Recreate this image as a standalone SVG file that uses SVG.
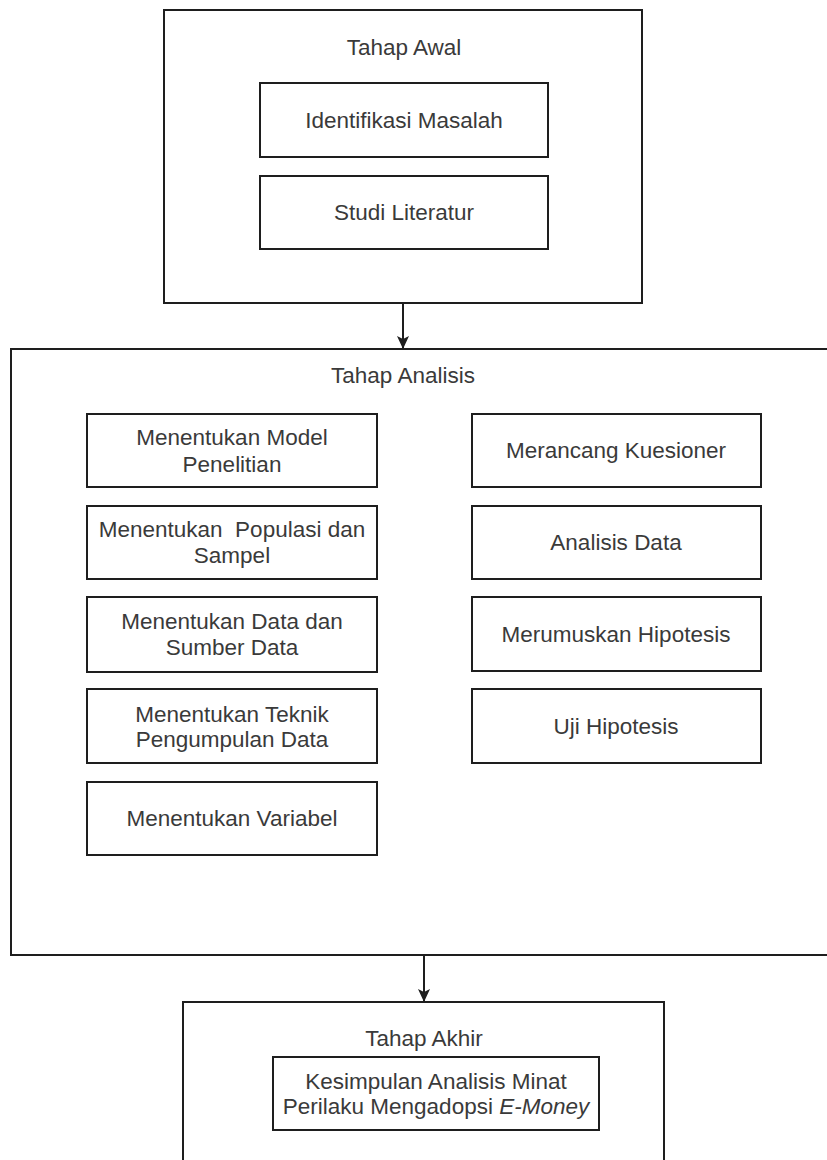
<svg xmlns="http://www.w3.org/2000/svg" width="827" height="1160" viewBox="0 0 827 1160">
  <style>
    .frame { fill: #ffffff; stroke: #1e1e1e; stroke-width: 2; }
    .box { fill: #ffffff; stroke: #1e1e1e; stroke-width: 2; }
    .label { font-family: "Liberation Sans", Arial, sans-serif; font-size: 22.5px; fill: #3a3a3a; text-anchor: middle; }
    .wire { fill: none; stroke: #1e1e1e; stroke-width: 2; }
  </style>
  <defs>
    <marker id="arrowhead" markerUnits="userSpaceOnUse" markerWidth="14" markerHeight="14" viewBox="0 0 14 14" refX="13" refY="7" orient="auto">
      <path d="M0,1 L13,7 L0,13 L3,7 z" fill="#1e1e1e"/>
    </marker>
  </defs>

  <rect x="0" y="0" width="827" height="1160" fill="#ffffff"/>

  <!-- Stage 1: Tahap Awal -->
  <g id="tahap-awal">
    <rect class="frame" x="164" y="10" width="478" height="293"/>
    <text class="label" x="404" y="55">Tahap Awal</text>
  </g>
  <g id="identifikasi-masalah">
    <rect class="box" x="260" y="83" width="288" height="74"/>
    <text class="label" x="404" y="128">Identifikasi Masalah</text>
  </g>
  <g id="studi-literatur">
    <rect class="box" x="260" y="176" width="288" height="73"/>
    <text class="label" x="404" y="220">Studi Literatur</text>
  </g>

  <!-- Stage 2: Tahap Analisis -->
  <g id="tahap-analisis">
    <rect class="frame" x="11" y="349" width="830" height="606"/>
    <text class="label" x="403" y="383">Tahap Analisis</text>
  </g>
  <g id="model-penelitian">
    <rect class="box" x="87" y="414" width="290" height="73"/>
    <text class="label" x="232" y="445">Menentukan Model</text>
    <text class="label" x="232" y="472">Penelitian</text>
  </g>
  <g id="populasi-sampel">
    <rect class="box" x="87" y="506" width="290" height="73"/>
    <text class="label" x="232" y="537" style="white-space: pre">Menentukan  Populasi dan</text>
    <text class="label" x="232" y="563">Sampel</text>
  </g>
  <g id="data-sumber">
    <rect class="box" x="87" y="597" width="290" height="75"/>
    <text class="label" x="232" y="629">Menentukan Data dan</text>
    <text class="label" x="232" y="655">Sumber Data</text>
  </g>
  <g id="teknik-pengumpulan">
    <rect class="box" x="87" y="689" width="290" height="74"/>
    <text class="label" x="232" y="722">Menentukan Teknik</text>
    <text class="label" x="232" y="747">Pengumpulan Data</text>
  </g>
  <g id="variabel">
    <rect class="box" x="87" y="782" width="290" height="73"/>
    <text class="label" x="232" y="826">Menentukan Variabel</text>
  </g>
  <g id="kuesioner">
    <rect class="box" x="472" y="414" width="289" height="73"/>
    <text class="label" x="616" y="458">Merancang Kuesioner</text>
  </g>
  <g id="analisis-data">
    <rect class="box" x="472" y="506" width="289" height="73"/>
    <text class="label" x="616" y="550">Analisis Data</text>
  </g>
  <g id="hipotesis">
    <rect class="box" x="472" y="597" width="289" height="74"/>
    <text class="label" x="616" y="642">Merumuskan Hipotesis</text>
  </g>
  <g id="uji-hipotesis">
    <rect class="box" x="472" y="689" width="289" height="74"/>
    <text class="label" x="616" y="734">Uji Hipotesis</text>
  </g>

  <!-- Stage 3: Tahap Akhir -->
  <g id="tahap-akhir">
    <rect class="frame" x="183" y="1002" width="481" height="220"/>
    <text class="label" x="424" y="1046">Tahap Akhir</text>
  </g>
  <g id="kesimpulan">
    <rect class="box" x="273" y="1057" width="326" height="73"/>
    <text class="label" x="436" y="1089">Kesimpulan Analisis Minat</text>
    <text class="label" x="436" y="1114">Perilaku Mengadopsi <tspan font-style="italic">E-Money</tspan></text>
  </g>

  <!-- Connectors between stages -->
  <g id="connectors">
    <line class="wire" x1="403" y1="303" x2="403" y2="349" marker-end="url(#arrowhead)"/>
    <line class="wire" x1="424" y1="955" x2="424" y2="1002" marker-end="url(#arrowhead)"/>
  </g>
</svg>
